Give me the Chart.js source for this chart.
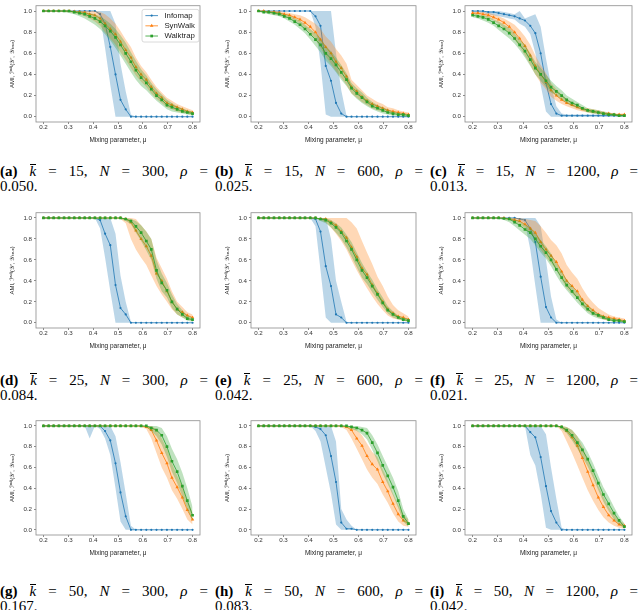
<!DOCTYPE html>
<html>
<head>
<meta charset="utf-8">
<script src="https://cdn.jsdelivr.net/npm/chart.js@4.4.1/dist/chart.umd.min.js"></script>
<style>
  html, body { margin: 0; padding: 0; background: #fff; }
  #page { position: relative; width: 640px; height: 610px; overflow: hidden; }
  #page canvas { position: absolute; }
  .cap { position: absolute; width: 208px; font-family: "Liberation Serif", "Times New Roman", serif;
         font-size: 15px; line-height: 15px; color: #000; }
  .cap .l1 { height: 15px; text-align: justify; text-align-last: justify; white-space: normal; }
  .cap .kbar { font-style: italic; display: inline-block; border-top: 1px solid #000; line-height: 13px; }
</style>
</head>
<body>
<div id="page"></div>
<script>
// mixing parameter, 30 evenly spaced values between 0.2 and 0.8
const xValues = [0.200, 0.221, 0.241, 0.262, 0.283, 0.303, 0.324, 0.345, 0.366, 0.386,
                 0.407, 0.428, 0.448, 0.469, 0.490, 0.510, 0.531, 0.552, 0.572, 0.593,
                 0.614, 0.634, 0.655, 0.676, 0.697, 0.717, 0.738, 0.759, 0.779, 0.800];
const xTicks = [0.2, 0.3, 0.4, 0.5, 0.6, 0.7, 0.8];
const yTicks = [0, 0.2, 0.4, 0.6, 0.8, 1.0];
const methods = ['Infomap', 'SynWalk', 'Walktrap'];

const panelLetters = ['a', 'b', 'c', 'd', 'e', 'f', 'g', 'h', 'i'];
const kValues = [15, 15, 15, 25, 25, 25, 50, 50, 50];
const nValues = [300, 600, 1200, 300, 600, 1200, 300, 600, 1200];
const rhoValues = ['0.050', '0.025', '0.013', '0.084', '0.042', '0.021', '0.167', '0.083', '0.042'];

// (a) k=15, N=300
const aInf   = [1,1,1,1,1, 1,1,1,1,1, 1,0.97,0.88,0.66,0.40, 0.16,0.07,0,0,0, 0,0,0,0,0, 0,0,0,0,0];
const aInfLo = [1,1,1,1,1, 1,1,1,1,1, 1,0.95,0.65,0.30,0, 0,0,0,0,0, 0,0,0,0,0, 0,0,0,0,0];
const aInfHi = [1,1,1,1,1, 1,1,1,1,1, 1,1,1,1,0.88, 0.50,0.24,0.02,0,0, 0,0,0,0,0, 0,0,0,0,0];
const aSyn   = [1,1,1,1,1, 1,0.995,0.99,0.985,0.97, 0.96,0.93,0.88,0.83,0.78, 0.71,0.63,0.56,0.47,0.40, 0.35,0.28,0.22,0.18,0.13, 0.11,0.09,0.07,0.05,0.04];
const aSynLo = [1,1,1,1,1, 0.99,0.98,0.97,0.95,0.93, 0.90,0.86,0.80,0.74,0.68, 0.61,0.54,0.46,0.39,0.33, 0.28,0.22,0.17,0.13,0.09, 0.07,0.05,0.04,0.03,0.02];
const aSynHi = [1,1,1,1,1, 1,1,1,1,1, 1,0.99,0.97,0.93,0.88, 0.81,0.73,0.66,0.56,0.48, 0.42,0.35,0.28,0.23,0.18, 0.15,0.12,0.10,0.08,0.06];
const aWlk   = [1,1,1,1,1, 1,0.99,0.98,0.97,0.95, 0.93,0.90,0.86,0.81,0.75, 0.68,0.60,0.52,0.44,0.37, 0.32,0.26,0.20,0.16,0.11, 0.09,0.07,0.05,0.04,0.03];
const aWlkLo = [1,1,1,1,0.99, 0.98,0.97,0.95,0.93,0.90, 0.87,0.83,0.78,0.72,0.65, 0.58,0.50,0.42,0.35,0.29, 0.25,0.20,0.15,0.11,0.07, 0.05,0.04,0.03,0.02,0.01];
const aWlkHi = [1,1,1,1,1, 1,1,1,0.99,0.98, 0.97,0.95,0.92,0.88,0.83, 0.77,0.70,0.61,0.53,0.45, 0.39,0.32,0.26,0.21,0.16, 0.13,0.10,0.08,0.06,0.05];

// (b) k=15, N=600
const bInf   = [1,1,1,1,1, 1,1,1,1,1, 1,0.95,0.86,0.48,0.34, 0.13,0.03,0,0,0, 0,0,0,0,0, 0,0,0,0,0];
const bInfLo = [1,1,1,1,1, 1,1,1,1,1, 1,0.85,0.50,0.02,0, 0,0,0,0,0, 0,0,0,0,0, 0,0,0,0,0];
const bInfHi = [1,1,1,1,1, 1,1,1,1,1, 1,1,1,1,1, 0.60,0.25,0.01,0,0, 0,0,0,0,0, 0,0,0,0,0];
const bSyn   = [1,1,0.99,0.99,0.98, 0.97,0.96,0.94,0.92,0.89, 0.85,0.80,0.73,0.66,0.60, 0.52,0.46,0.38,0.28,0.24, 0.19,0.15,0.12,0.10,0.08, 0.06,0.05,0.04,0.03,0.02];
const bSynLo = [1,0.99,0.98,0.97,0.96, 0.95,0.93,0.91,0.88,0.84, 0.79,0.73,0.65,0.57,0.50, 0.43,0.37,0.30,0.22,0.18, 0.14,0.11,0.08,0.06,0.05, 0.04,0.03,0.02,0.02,0.01];
const bSynHi = [1,1,1,1,1, 0.99,0.98,0.97,0.96,0.94, 0.91,0.88,0.83,0.76,0.71, 0.64,0.58,0.50,0.35,0.30, 0.25,0.20,0.17,0.14,0.12, 0.09,0.08,0.06,0.05,0.04];
const bWlk   = [1,0.99,0.99,0.98,0.97, 0.95,0.93,0.90,0.87,0.83, 0.78,0.73,0.68,0.60,0.55, 0.49,0.42,0.35,0.27,0.22, 0.18,0.14,0.10,0.08,0.06, 0.04,0.03,0.02,0.02,0.01];
const bWlkLo = [0.99,0.98,0.97,0.96,0.95, 0.93,0.90,0.87,0.83,0.79, 0.73,0.67,0.61,0.53,0.48, 0.42,0.35,0.29,0.22,0.17, 0.13,0.10,0.07,0.05,0.03, 0.02,0.01,0.01,0,0];
const bWlkHi = [1,1,1,0.99,0.99, 0.97,0.96,0.93,0.91,0.87, 0.83,0.79,0.74,0.67,0.62, 0.56,0.49,0.41,0.32,0.27, 0.23,0.18,0.14,0.11,0.09, 0.07,0.05,0.04,0.03,0.02];

// (c) k=15, N=1200
const cInf   = [1,1,1,0.99,0.99, 0.98,0.97,0.96,0.95,0.93, 0.91,0.86,0.79,0.60,0.32, 0.12,0.03,0.01,0.01,0.01, 0.01,0.01,0.01,0.01,0.01, 0.01,0.01,0.01,0.01,0.01];
const cInfLo = [0.99,0.99,0.98,0.97,0.96, 0.95,0.94,0.93,0.92,0.88, 0.85,0.78,0.60,0.30,0.05, 0,0,0,0,0, 0,0,0,0,0, 0,0,0,0,0];
const cInfHi = [1,1,1,1,1, 1,0.99,0.98,0.97,1, 0.93,0.95,0.97,0.85,0.55, 0.30,0.10,0.03,0.02,0.02, 0.02,0.02,0.02,0.02,0.02, 0.02,0.02,0.02,0.02,0.02];
const cSyn   = [0.98,0.98,0.97,0.96,0.94, 0.92,0.89,0.85,0.80,0.74, 0.67,0.58,0.48,0.40,0.33, 0.25,0.20,0.16,0.13,0.11, 0.09,0.07,0.06,0.05,0.04, 0.03,0.03,0.02,0.02,0.02];
const cSynLo = [0.97,0.96,0.95,0.93,0.91, 0.88,0.84,0.79,0.73,0.66, 0.58,0.49,0.40,0.32,0.26, 0.19,0.15,0.12,0.10,0.08, 0.06,0.05,0.04,0.03,0.03, 0.02,0.02,0.01,0.01,0.01];
const cSynHi = [0.99,0.99,0.99,0.98,0.97, 0.95,0.93,0.90,0.87,0.82, 0.76,0.68,0.58,0.49,0.41, 0.32,0.26,0.21,0.17,0.14, 0.11,0.09,0.08,0.07,0.06, 0.05,0.04,0.03,0.03,0.03];
const cWlk   = [0.96,0.95,0.94,0.92,0.89, 0.86,0.83,0.79,0.74,0.68, 0.62,0.54,0.46,0.40,0.34, 0.28,0.24,0.20,0.16,0.13, 0.11,0.08,0.06,0.05,0.04, 0.03,0.02,0.02,0.01,0.01];
const cWlkLo = [0.94,0.93,0.91,0.89,0.86, 0.82,0.78,0.74,0.69,0.63, 0.56,0.48,0.40,0.34,0.28, 0.23,0.20,0.16,0.13,0.10, 0.08,0.06,0.04,0.03,0.02, 0.02,0.01,0.01,0,0];
const cWlkHi = [0.98,0.97,0.96,0.95,0.92, 0.90,0.87,0.84,0.79,0.73, 0.68,0.60,0.52,0.46,0.40, 0.34,0.29,0.25,0.20,0.17, 0.14,0.11,0.08,0.07,0.06, 0.05,0.04,0.03,0.02,0.02];

// (d) k=25, N=300
const dInf   = [1,1,1,1,1, 1,1,1,1,1, 1,0.98,0.85,0.74,0.36, 0.14,0.08,0,0,0, 0,0,0,0,0, 0,0,0,0,0];
const dInfLo = [1,1,1,1,1, 1,1,1,1,1, 1,0.90,0.62,0.30,0, 0,0,0,0,0, 0,0,0,0,0, 0,0,0,0,0];
const dInfHi = [1,1,1,1,1, 1,1,1,1,1, 1,1,1,1,0.85, 0.45,0.20,0.01,0,0, 0,0,0,0,0, 0,0,0,0,0];
const dSyn   = [1,1,1,1,1, 1,1,1,1,1, 1,1,1,1,1, 1,0.99,0.96,0.88,0.80, 0.73,0.64,0.47,0.40,0.30, 0.20,0.13,0.10,0.07,0.05];
const dSynLo = [1,1,1,1,1, 1,1,1,1,1, 1,1,1,1,1, 0.99,0.95,0.80,0.70,0.62, 0.55,0.45,0.35,0.27,0.20, 0.13,0.08,0.05,0.03,0.02];
const dSynHi = [1,1,1,1,1, 1,1,1,1,1, 1,1,1,1,1, 1,1,1,0.99,0.93, 0.87,0.80,0.62,0.52,0.42, 0.30,0.20,0.15,0.10,0.08];
const dWlk   = [1,1,1,1,1, 1,1,1,1,1, 1,1,1,1,1, 1,0.99,0.97,0.92,0.86, 0.78,0.70,0.50,0.38,0.31, 0.20,0.13,0.08,0.04,0.03];
const dWlkLo = [1,1,1,1,1, 1,1,1,1,1, 1,1,1,1,1, 0.99,0.97,0.94,0.86,0.78, 0.69,0.60,0.42,0.30,0.24, 0.14,0.08,0.05,0.02,0.01];
const dWlkHi = [1,1,1,1,1, 1,1,1,1,1, 1,1,1,1,1, 1,1,0.99,0.97,0.93, 0.87,0.80,0.60,0.47,0.38, 0.27,0.18,0.12,0.07,0.05];

// (e) k=25, N=600
const eInf   = [1,1,1,1,1, 1,1,1,1,1, 1,0.99,0.87,0.54,0.35, 0.08,0.05,0,0,0, 0,0,0,0,0, 0,0,0,0,0];
const eInfLo = [1,1,1,1,1, 1,1,1,1,1, 1,0.92,0.50,0.05,0, 0,0,0,0,0, 0,0,0,0,0, 0,0,0,0,0];
const eInfHi = [1,1,1,1,1, 1,1,1,1,1, 1,1,1,1,0.80, 0.40,0.20,0.01,0,0, 0,0,0,0,0, 0,0,0,0,0];
const eSyn   = [1,1,1,1,1, 1,1,1,1,1, 1,1,0.99,0.99,0.96, 0.93,0.87,0.81,0.72,0.63, 0.52,0.46,0.36,0.28,0.20, 0.13,0.09,0.06,0.05,0.03];
const eSynLo = [1,1,1,1,1, 1,1,1,1,1, 1,1,0.98,0.96,0.91, 0.85,0.78,0.70,0.60,0.50, 0.41,0.33,0.25,0.18,0.12, 0.07,0.04,0.03,0.02,0.01];
const eSynHi = [1,1,1,1,1, 1,1,1,1,1, 1,1,1,1,1, 1,1,1,0.96,0.90, 0.78,0.67,0.56,0.44,0.35, 0.25,0.17,0.12,0.09,0.06];
const eWlk   = [1,1,1,1,1, 1,1,1,1,1, 1,1,0.99,0.98,0.95, 0.91,0.86,0.78,0.70,0.60, 0.50,0.43,0.35,0.27,0.19, 0.12,0.08,0.05,0.03,0.02];
const eWlkLo = [1,1,1,1,1, 1,1,1,1,1, 1,1,0.97,0.95,0.91, 0.86,0.80,0.72,0.63,0.53, 0.43,0.37,0.29,0.22,0.15, 0.09,0.05,0.03,0.02,0.01];
const eWlkHi = [1,1,1,1,1, 1,1,1,1,1, 1,1,1,1,0.98, 0.95,0.91,0.84,0.77,0.67, 0.57,0.49,0.41,0.32,0.24, 0.16,0.11,0.07,0.05,0.04];

// (f) k=25, N=1200
const fInf   = [1,1,1,1,1, 1,1,1,1,0.99, 0.98,0.90,0.77,0.44,0.15, 0.05,0,0,0,0, 0,0,0,0,0, 0,0,0,0,0];
const fInfLo = [1,1,1,1,1, 1,1,1,1,0.98, 0.95,0.70,0.35,0,0, 0,0,0,0,0, 0,0,0,0,0, 0,0,0,0,0];
const fInfHi = [1,1,1,1,1, 1,1,1,1,1, 1,1,1,0.92,0.60, 0.25,0.03,0,0,0, 0,0,0,0,0, 0,0,0,0,0];
const fSyn   = [1,1,1,1,1, 1,1,0.99,0.98,0.97, 0.94,0.90,0.86,0.77,0.70, 0.64,0.58,0.49,0.40,0.35, 0.30,0.22,0.16,0.12,0.08, 0.06,0.05,0.04,0.03,0.02];
const fSynLo = [1,1,1,1,1, 1,0.99,0.98,0.96,0.94, 0.90,0.85,0.80,0.70,0.63, 0.57,0.50,0.41,0.33,0.28, 0.23,0.16,0.11,0.08,0.05, 0.03,0.02,0.02,0.01,0.01];
const fSynHi = [1,1,1,1,1, 1,1,1,1,1, 0.99,0.98,0.97,0.92,0.86, 0.79,0.74,0.66,0.55,0.48, 0.42,0.33,0.25,0.19,0.14, 0.11,0.08,0.06,0.05,0.04];
const fWlk   = [1,1,1,1,1, 1,0.995,0.99,0.96,0.93, 0.89,0.86,0.80,0.73,0.67, 0.60,0.51,0.43,0.36,0.30, 0.24,0.18,0.13,0.09,0.07, 0.05,0.03,0.02,0.02,0.01];
const fWlkLo = [1,1,1,1,1, 0.99,0.98,0.96,0.92,0.88, 0.84,0.80,0.74,0.67,0.61, 0.54,0.45,0.37,0.31,0.25, 0.19,0.14,0.09,0.06,0.04, 0.03,0.02,0.01,0.01,0];
const fWlkHi = [1,1,1,1,1, 1,1,1,0.99,0.97, 0.94,0.91,0.86,0.79,0.73, 0.66,0.57,0.49,0.41,0.35, 0.29,0.22,0.17,0.12,0.09, 0.07,0.05,0.04,0.03,0.02];

// (g) k=50, N=300
const gInf   = [1,1,1,1,1, 1,1,1,1,1, 1,1,0.95,0.86,0.64, 0.36,0.13,0,0,0, 0,0,0,0,0, 0,0,0,0,0];
const gInfLo = [1,1,1,1,1, 1,1,1,1,0.88, 1,0.97,0.88,0.72,0.40, 0.08,0,0,0,0, 0,0,0,0,0, 0,0,0,0,0];
const gInfHi = [1,1,1,1,1, 1,1,1,1,1, 1,1,1,1,0.90, 0.65,0.35,0.04,0,0, 0,0,0,0,0, 0,0,0,0,0];
const gSyn   = [1,1,1,1,1, 1,1,1,1,1, 1,1,1,1,1, 1,1,1,1,1, 0.99,0.96,0.86,0.74,0.64, 0.50,0.41,0.31,0.19,0.10];
const gSynLo = [1,1,1,1,1, 1,1,1,1,1, 1,1,1,1,1, 1,1,1,1,0.99, 0.97,0.88,0.74,0.60,0.50, 0.38,0.30,0.20,0.10,0.05];
const gSynHi = [1,1,1,1,1, 1,1,1,1,1, 1,1,1,1,1, 1,1,1,1,1, 1,1,0.97,0.88,0.78, 0.64,0.52,0.42,0.28,0.17];
const gWlk   = [1,1,1,1,1, 1,1,1,1,1, 1,1,1,1,1, 1,1,1,1,1, 1,0.98,0.96,0.91,0.80, 0.66,0.56,0.42,0.28,0.14];
const gWlkLo = [1,1,1,1,1, 1,1,1,1,1, 1,1,1,1,1, 1,1,1,1,1, 0.99,0.95,0.90,0.82,0.70, 0.56,0.45,0.32,0.20,0.08];
const gWlkHi = [1,1,1,1,1, 1,1,1,1,1, 1,1,1,1,1, 1,1,1,1,1, 1,1,1,0.98,0.90, 0.78,0.68,0.55,0.40,0.22];

// (h) k=50, N=600
const hInf   = [1,1,1,1,1, 1,1,1,1,1, 1,0.99,0.97,0.91,0.71, 0.46,0.07,0.01,0.01,0, 0,0,0,0,0, 0,0,0,0,0];
const hInfLo = [1,1,1,1,1, 1,1,1,1,1, 1,0.95,0.85,0.60,0.35, 0.05,0,0,0,0, 0,0,0,0,0, 0,0,0,0,0];
const hInfHi = [1,1,1,1,1, 1,1,1,1,1, 1,1,1,1,1, 0.85,0.20,0.10,0.04,0, 0,0,0,0,0, 0,0,0,0,0];
const hSyn   = [1,1,1,1,1, 1,1,1,1,1, 1,1,1,1,1, 1,1,0.99,0.96,0.88, 0.81,0.71,0.63,0.58,0.46, 0.37,0.25,0.15,0.09,0.06];
const hSynLo = [1,1,1,1,1, 1,1,1,1,1, 1,1,1,1,1, 1,0.99,0.96,0.88,0.78, 0.68,0.58,0.50,0.44,0.34, 0.26,0.16,0.08,0.04,0.03];
const hSynHi = [1,1,1,1,1, 1,1,1,1,1, 1,1,1,1,1, 1,1,1,1,0.96, 0.91,0.83,0.75,0.70,0.58, 0.48,0.35,0.24,0.15,0.10];
const hWlk   = [1,1,1,1,1, 1,1,1,1,1, 1,1,1,1,1, 1,1,1,0.99,0.98, 0.96,0.93,0.84,0.74,0.62, 0.52,0.41,0.28,0.13,0.06];
const hWlkLo = [1,1,1,1,1, 1,1,1,1,1, 1,1,1,1,1, 1,1,0.99,0.97,0.95, 0.92,0.87,0.77,0.66,0.54, 0.44,0.33,0.21,0.08,0.03];
const hWlkHi = [1,1,1,1,1, 1,1,1,1,1, 1,1,1,1,1, 1,1,1,1,1, 0.99,0.98,0.91,0.82,0.71, 0.61,0.50,0.37,0.20,0.10];

// (i) k=50, N=1200
const iInf   = [1,1,1,1,1, 1,1,1,1,1, 1,0.94,0.89,0.70,0.42, 0.18,0.07,0,0,0, 0,0,0,0,0, 0,0,0,0,0];
const iInfLo = [1,1,1,1,1, 1,1,1,1,1, 1,0.72,0.62,0.35,0.02, 0,0,0,0,0, 0,0,0,0,0, 0,0,0,0,0];
const iInfHi = [1,1,1,1,1, 1,1,1,1,1, 1,1,1,1,0.92, 0.60,0.30,0.02,0,0, 0,0,0,0,0, 0,0,0,0,0];
const iSyn   = [1,1,1,1,1, 1,1,1,1,1, 1,1,1,1,1, 1,1,0.99,0.95,0.89, 0.81,0.69,0.56,0.43,0.31, 0.22,0.14,0.09,0.05,0.04];
const iSynLo = [1,1,1,1,1, 1,1,1,1,1, 1,1,1,1,1, 1,1,0.95,0.85,0.74, 0.62,0.50,0.38,0.28,0.19, 0.12,0.07,0.04,0.02,0.01];
const iSynHi = [1,1,1,1,1, 1,1,1,1,1, 1,1,1,1,1, 1,1,1,0.99,0.96, 0.90,0.80,0.68,0.55,0.42, 0.32,0.22,0.15,0.09,0.06];
const iWlk   = [1,1,1,1,1, 1,1,1,1,1, 1,1,1,1,1, 1,1,0.99,0.96,0.91, 0.84,0.77,0.68,0.57,0.45, 0.34,0.25,0.16,0.09,0.03];
const iWlkLo = [1,1,1,1,1, 1,1,1,1,1, 1,1,1,1,1, 1,1,0.97,0.93,0.86, 0.78,0.70,0.61,0.50,0.38, 0.27,0.18,0.10,0.05,0.01];
const iWlkHi = [1,1,1,1,1, 1,1,1,1,1, 1,1,1,1,1, 1,1,1,0.99,0.96, 0.90,0.84,0.75,0.64,0.52, 0.41,0.32,0.22,0.13,0.06];

// mean / lower / upper per method, one row per panel
const panelSeries = [
  [[aInf, aInfLo, aInfHi], [aSyn, aSynLo, aSynHi], [aWlk, aWlkLo, aWlkHi]],
  [[bInf, bInfLo, bInfHi], [bSyn, bSynLo, bSynHi], [bWlk, bWlkLo, bWlkHi]],
  [[cInf, cInfLo, cInfHi], [cSyn, cSynLo, cSynHi], [cWlk, cWlkLo, cWlkHi]],
  [[dInf, dInfLo, dInfHi], [dSyn, dSynLo, dSynHi], [dWlk, dWlkLo, dWlkHi]],
  [[eInf, eInfLo, eInfHi], [eSyn, eSynLo, eSynHi], [eWlk, eWlkLo, eWlkHi]],
  [[fInf, fInfLo, fInfHi], [fSyn, fSynLo, fSynHi], [fWlk, fWlkLo, fWlkHi]],
  [[gInf, gInfLo, gInfHi], [gSyn, gSynLo, gSynHi], [gWlk, gWlkLo, gWlkHi]],
  [[hInf, hInfLo, hInfHi], [hSyn, hSynLo, hSynHi], [hWlk, hWlkLo, hWlkHi]],
  [[iInf, iInfLo, iInfHi], [iSyn, iSynLo, iSynHi], [iWlk, iWlkLo, iWlkHi]]
];

const COLORS = ['#1f77b4', '#ff7f0e', '#2ca02c'];
const BANDS = ['rgba(31,119,180,0.3)', 'rgba(255,127,14,0.3)', 'rgba(44,160,44,0.3)'];
const MARKERS = [
  { style: 'circle', radius: 1.1 },
  { style: 'triangle', radius: 2.0 },
  { style: 'rect', radius: 1.9 }
];
const SANS = "'Liberation Sans', 'DejaVu Sans', Arial, sans-serif";

// plot-area boxes (page px)
const colLeft = [36, 251, 465];
const colRight = [201, 417, 633];
const rowTop = [2, 209, 417];
const rowBottom = [122, 328, 535];
const capLeft = [0, 215, 430];
const capTop = [164, 373, 584];
const Y_AXIS_W = 36, X_AXIS_H = 30, PAD_T = 2, PAD_R = 3;

// matplotlib-style box around the axes
const frame = {
  id: 'frame',
  afterDatasetsDraw(chart) {
    const { ctx, chartArea: a } = chart;
    ctx.save();
    ctx.strokeStyle = '#8c8c8c';
    ctx.lineWidth = 0.8;
    ctx.strokeRect(a.left, a.top, a.right - a.left, a.bottom - a.top);
    ctx.restore();
  }
};

// legend box only on panel (a), drawn inside the top right corner
const legendBox = {
  id: 'legendBox',
  afterDraw(chart) {
    const { ctx, chartArea: a } = chart;
    const items = chart.data.datasets.filter(d => d.isMean);
    const x0 = a.right - 58, y0 = a.top + 3.7, w = 57, h = 32.6;
    ctx.save();
    ctx.fillStyle = 'rgba(255,255,255,0.85)';
    ctx.strokeStyle = '#d0d0d0';
    ctx.lineWidth = 0.8;
    ctx.beginPath();
    ctx.roundRect(x0, y0, w, h, 2);
    ctx.fill();
    ctx.stroke();
    ctx.font = '7.8px ' + SANS;
    ctx.textBaseline = 'middle';
    items.forEach((d, i) => {
      const y = y0 + 6.2 + i * 10.2;
      ctx.strokeStyle = d.borderColor;
      ctx.fillStyle = d.borderColor;
      ctx.lineWidth = 0.8;
      ctx.beginPath();
      ctx.moveTo(x0 + 3.4, y);
      ctx.lineTo(x0 + 16, y);
      ctx.stroke();
      Chart.helpers.drawPoint(ctx, { pointStyle: d.pointStyle, radius: d.pointRadius, rotation: 0, borderWidth: 0 }, x0 + 9.7, y);
      ctx.fillStyle = '#222';
      ctx.fillText(d.label, x0 + 22.4, y + 0.3);
    });
    ctx.restore();
  }
};

function pts(arr) {
  return xValues.map((x, i) => ({ x, y: arr[i] }));
}

function buildDatasets(series) {
  const out = [];
  series.forEach(([mean, lo, hi], m) => {
    const order = (2 - m) * 2;     // Walktrap ends up on top, like the original
    out.push({ data: pts(lo), borderColor: 'transparent', borderWidth: 1, pointRadius: 0, fill: false, order: order + 1 });
    out.push({ data: pts(hi), borderColor: 'transparent', borderWidth: 1, pointRadius: 0, fill: '-1',
               backgroundColor: BANDS[m], order: order + 1 });
    out.push({ label: methods[m], data: pts(mean), isMean: true, order,
               borderColor: COLORS[m], backgroundColor: COLORS[m], borderWidth: 0.8,
               pointStyle: MARKERS[m].style, pointRadius: MARKERS[m].radius,
               pointBorderWidth: 0, pointBackgroundColor: COLORS[m], fill: false });
  });
  return out;
}

function axisStyle(ticks) {
  return {
    type: 'linear',
    afterBuildTicks: s => { s.ticks = ticks.map(v => ({ value: v })); },
    ticks: { callback: v => v.toFixed(1), color: '#333', font: { family: SANS, size: 6.2 },
             autoSkip: false, maxRotation: 0 },
    grid: { display: true, drawOnChartArea: false, drawTicks: true, tickLength: 2, tickColor: '#8c8c8c' },
    border: { display: false }
  };
}

const page = document.getElementById('page');

panelSeries.forEach((series, p) => {
  const col = p % 3, row = Math.floor(p / 3);
  const l = colLeft[col], r = colRight[col], t = rowTop[row], b = rowBottom[row];
  const canvas = document.createElement('canvas');
  canvas.width = (r - l) + Y_AXIS_W + PAD_R;
  canvas.height = (b - t) + PAD_T + X_AXIS_H;
  canvas.style.left = (l - Y_AXIS_W) + 'px';
  canvas.style.top = (t - PAD_T) + 'px';
  canvas.style.width = canvas.width + 'px';
  canvas.style.height = canvas.height + 'px';
  page.appendChild(canvas);

  const xAxis = axisStyle(xTicks);
  Object.assign(xAxis, {
    min: 0.17, max: 0.83,
    afterFit: s => { s.height = X_AXIS_H; },
    title: { display: true, text: 'Mixing parameter, \u03bc', color: '#222',
             font: { family: SANS, size: 6.5 }, padding: { top: 0, bottom: 7.6 } }
  });
  xAxis.ticks.padding = 0;

  const yAxis = axisStyle(yTicks);
  Object.assign(yAxis, {
    min: -0.05, max: 1.05,
    afterFit: s => { s.width = Y_AXIS_W; },
    title: { display: true, text: 'AMI, \u2110\u1d43\u1d48\u02b2(\ud835\udcb4\u2032, \ud835\udcb4\u209c\u1d63\u1d64\u2091)', color: '#222',
             font: { family: SANS, size: 6 }, padding: { top: 8.4, bottom: 0 } }
  });
  yAxis.ticks.padding = 2;

  new Chart(canvas, {
    type: 'line',
    data: { datasets: buildDatasets(series) },
    options: {
      responsive: false,
      animation: false,
      layout: { padding: { top: PAD_T, right: PAD_R, left: 0, bottom: 0 } },
      elements: { line: { tension: 0 } },
      plugins: { legend: { display: false }, tooltip: { enabled: false } },
      scales: { x: xAxis, y: yAxis }
    },
    plugins: p === 0 ? [frame, legendBox] : [frame]
  });

  const cap = document.createElement('div');
  cap.className = 'cap';
  cap.style.left = capLeft[col] + 'px';
  cap.style.top = capTop[row] + 'px';
  cap.innerHTML = '<div class="l1"><b>(' + panelLetters[p] + ')</b> <span class="kbar">k</span> = ' +
    kValues[p] + ', <i>N</i> = ' + nValues[p] + ', <i>\u03c1</i> =</div><div>' + rhoValues[p] + '.</div>';
  page.appendChild(cap);
});
</script>
</body>
</html>
